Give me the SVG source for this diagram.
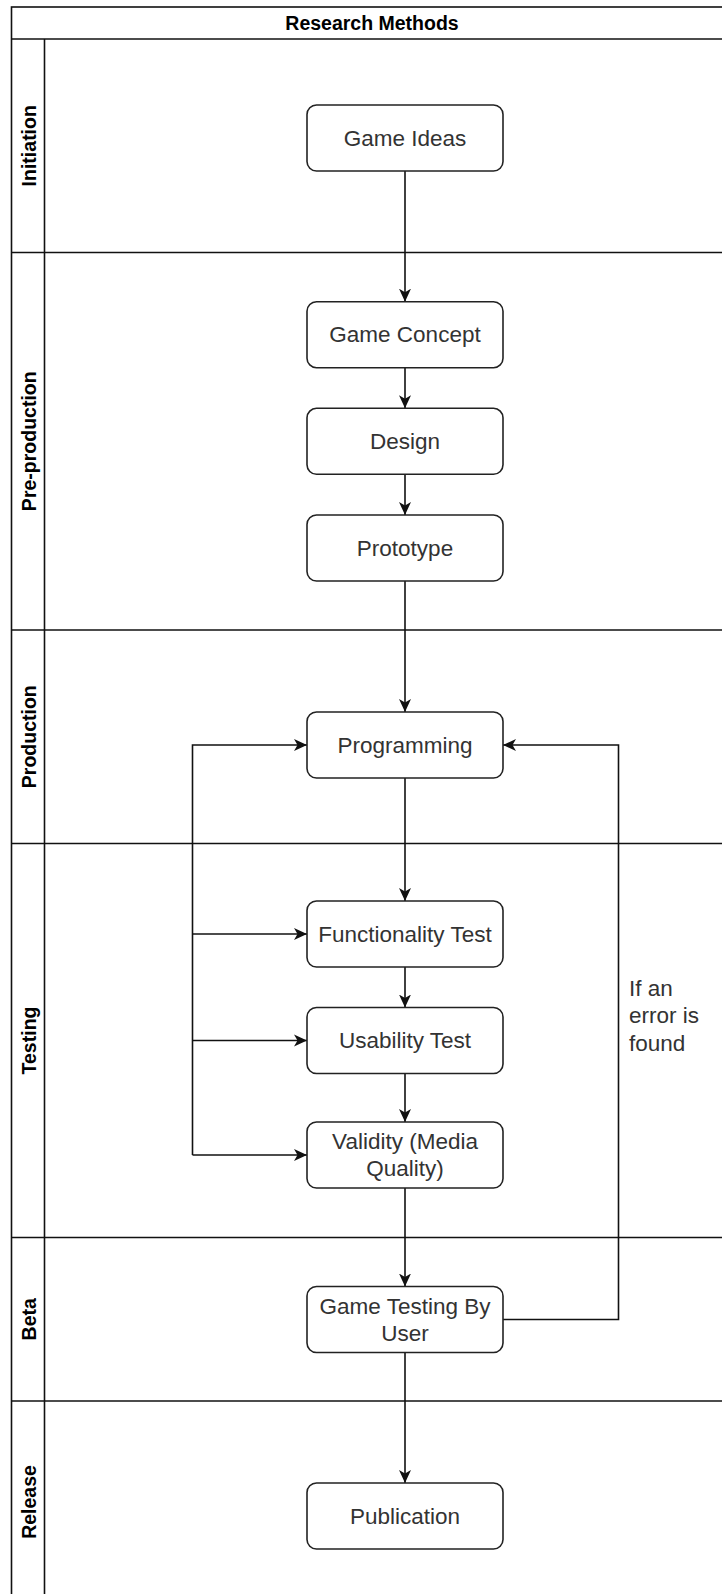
<svg xmlns="http://www.w3.org/2000/svg" width="722" height="1594" viewBox="0 0 722 1594">
<style>
.lane{fill:none;stroke:#111;stroke-width:1.6}
.box{fill:#fff;stroke:#222;stroke-width:1.6}
.t{font-family:"Liberation Sans",Arial,sans-serif;font-size:22.5px;fill:#333;text-anchor:middle}
.lbl{font-family:"Liberation Sans",Arial,sans-serif;font-size:19.5px;font-weight:bold;fill:#000;text-anchor:middle}
.e{fill:none;stroke:#111;stroke-width:1.6}
.note{font-family:"Liberation Sans",Arial,sans-serif;font-size:22.5px;fill:#333}
</style>
<defs>
<marker id="arr" markerUnits="userSpaceOnUse" markerWidth="14" markerHeight="13" refX="13" refY="6.5" orient="auto">
<path d="M0,0.5 L13,6.5 L0,12.5 L3.5,6.5 Z" fill="#111"/>
</marker>
</defs>
<rect x="0" y="0" width="722" height="1594" fill="#fff"/>
<g id="pool">
<rect class="lane" x="11.5" y="7" width="730" height="1600"/>
<line class="lane" x1="11.5" y1="39" x2="722" y2="39"/>
<line class="lane" x1="44.5" y1="39" x2="44.5" y2="1600"/>
<text class="lbl" x="372" y="30">Research Methods</text>
</g>
<g id="lane-initiation">
<text class="lbl" transform="translate(35.5,145.75) rotate(-90)">Initiation</text>
</g>
<g id="lane-preproduction">
<line class="lane" x1="11.5" y1="252.5" x2="722" y2="252.5"/>
<text class="lbl" transform="translate(35.5,441.25) rotate(-90)">Pre-production</text>
</g>
<g id="lane-production">
<line class="lane" x1="11.5" y1="630" x2="722" y2="630"/>
<text class="lbl" transform="translate(35.5,736.75) rotate(-90)">Production</text>
</g>
<g id="lane-testing">
<line class="lane" x1="11.5" y1="843.5" x2="722" y2="843.5"/>
<text class="lbl" transform="translate(35.5,1040.5) rotate(-90)">Testing</text>
</g>
<g id="lane-beta">
<line class="lane" x1="11.5" y1="1237.5" x2="722" y2="1237.5"/>
<text class="lbl" transform="translate(35.5,1319.25) rotate(-90)">Beta</text>
</g>
<g id="lane-release">
<line class="lane" x1="11.5" y1="1401" x2="722" y2="1401"/>
<text class="lbl" transform="translate(35.5,1502) rotate(-90)">Release</text>
</g>
<g id="connectors">
<line class="e" x1="405" y1="171" x2="405" y2="301.7" marker-end="url(#arr)"/>
<line class="e" x1="405" y1="367.7" x2="405" y2="408.3" marker-end="url(#arr)"/>
<line class="e" x1="405" y1="474.3" x2="405" y2="515" marker-end="url(#arr)"/>
<line class="e" x1="405" y1="581" x2="405" y2="712" marker-end="url(#arr)"/>
<line class="e" x1="405" y1="778" x2="405" y2="901" marker-end="url(#arr)"/>
<line class="e" x1="405" y1="967" x2="405" y2="1007.5" marker-end="url(#arr)"/>
<line class="e" x1="405" y1="1073.5" x2="405" y2="1122" marker-end="url(#arr)"/>
<line class="e" x1="405" y1="1188" x2="405" y2="1286.5" marker-end="url(#arr)"/>
<line class="e" x1="405" y1="1352.5" x2="405" y2="1483" marker-end="url(#arr)"/>
<path class="e" d="M192.5,1155 V745 H307" marker-end="url(#arr)"/>
<line class="e" x1="192.5" y1="934" x2="307" y2="934" marker-end="url(#arr)"/>
<line class="e" x1="192.5" y1="1040.5" x2="307" y2="1040.5" marker-end="url(#arr)"/>
<line class="e" x1="192.5" y1="1155" x2="307" y2="1155" marker-end="url(#arr)"/>
<path class="e" d="M503,1319.5 H618.5 V745 H503" marker-end="url(#arr)"/>
<text class="note" x="629" y="996">If an</text>
<text class="note" x="629" y="1023.3">error is</text>
<text class="note" x="629" y="1050.6">found</text>
</g>
<g id="n-game-ideas">
<rect class="box" x="307" y="105" width="196" height="66" rx="9.5"/>
<text class="t" x="405" y="145.7">Game Ideas</text>
</g>
<g id="n-game-concept">
<rect class="box" x="307" y="301.7" width="196" height="66" rx="9.5"/>
<text class="t" x="405" y="342.4">Game Concept</text>
</g>
<g id="n-design">
<rect class="box" x="307" y="408.3" width="196" height="66" rx="9.5"/>
<text class="t" x="405" y="449">Design</text>
</g>
<g id="n-prototype">
<rect class="box" x="307" y="515" width="196" height="66" rx="9.5"/>
<text class="t" x="405" y="555.7">Prototype</text>
</g>
<g id="n-programming">
<rect class="box" x="307" y="712" width="196" height="66" rx="9.5"/>
<text class="t" x="405" y="752.7">Programming</text>
</g>
<g id="n-functionality">
<rect class="box" x="307" y="901" width="196" height="66" rx="9.5"/>
<text class="t" x="405" y="941.7">Functionality Test</text>
</g>
<g id="n-usability">
<rect class="box" x="307" y="1007.5" width="196" height="66" rx="9.5"/>
<text class="t" x="405" y="1048.2">Usability Test</text>
</g>
<g id="n-validity">
<rect class="box" x="307" y="1122" width="196" height="66" rx="9.5"/>
<text class="t" x="405" y="1149.2">Validity (Media</text>
<text class="t" x="405" y="1176.2">Quality)</text>
</g>
<g id="n-game-testing">
<rect class="box" x="307" y="1286.5" width="196" height="66" rx="9.5"/>
<text class="t" x="405" y="1313.7">Game Testing By</text>
<text class="t" x="405" y="1340.7">User</text>
</g>
<g id="n-publication">
<rect class="box" x="307" y="1483" width="196" height="66" rx="9.5"/>
<text class="t" x="405" y="1523.7">Publication</text>
</g>
</svg>
